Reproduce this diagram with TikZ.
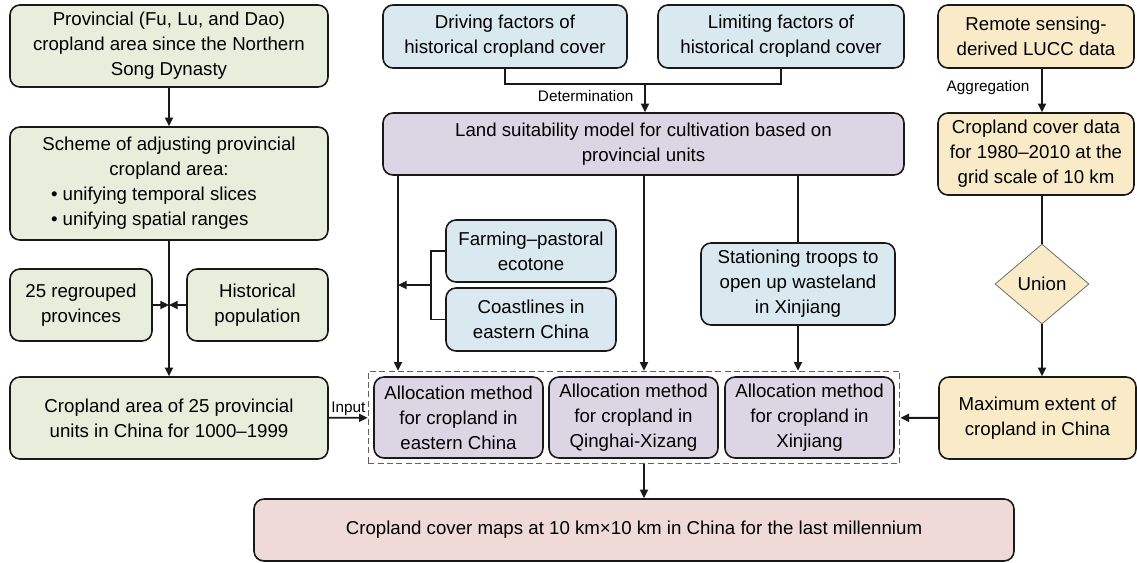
\documentclass[tikz,border=0pt]{standalone}
\usepackage{fontspec}
\setmainfont{Liberation Sans}
\usetikzlibrary{arrows.meta,shapes.geometric,fit}

\definecolor{boxline}{RGB}{25,25,25}
\definecolor{boxgreen}{RGB}{233,237,220}
\definecolor{boxblue}{RGB}{218,232,239}
\definecolor{boxpurple}{RGB}{220,214,228}
\definecolor{boxyellow}{RGB}{249,235,200}
\definecolor{boxpink}{RGB}{240,218,216}

\begin{document}
\begin{tikzpicture}[x=0.75pt,y=0.75pt,yscale=-1,xscale=1,
    every node/.style={font=\fontsize{14}{18.75}\selectfont},
    base/.style={draw=boxline, line width=1.2pt, rounded corners=7.5pt, align=center, inner sep=0pt},
    greenbox/.style={base, fill=boxgreen},
    bluebox/.style={base, fill=boxblue},
    purplebox/.style={base, fill=boxpurple},
    yellowbox/.style={base, fill=boxyellow},
    pinkbox/.style={base, fill=boxpink},
    dashbox/.style={draw=gray!75!black, line width=0.8pt, dash pattern=on 4.5pt off 2.5pt, inner sep=3.75pt},
    lbl/.style={font=\fontsize{11.5}{13}\selectfont, inner sep=1pt},
    arr/.style={-{Triangle[length=6.5pt,width=6pt]}, line width=1.35pt, draw=boxline},
    link/.style={line width=1.35pt, draw=boxline}
]
    \useasboundingbox (0,0) rectangle (1137,562);

    %Left column [provincial cropland area]
    \node[greenbox, minimum width=238.5pt, minimum height=61.5pt] (prov) at (169,46) {Provincial (Fu, Lu, and Dao)\\cropland area since the Northern\\Song Dynasty};
    \node[greenbox, minimum width=238.5pt, minimum height=84.75pt] (scheme) at (169,183.5) {Scheme of adjusting provincial\\cropland area:\\\makebox[177pt][l]{\textbullet\ unifying temporal slices}\\\makebox[177pt][l]{\textbullet\ unifying spatial ranges}};
    \node[greenbox, minimum width=106.5pt, minimum height=54pt] (regr) at (81,305) {25 regrouped\\provinces};
    \node[greenbox, minimum width=105.75pt, minimum height=54pt] (pop) at (257.5,305) {Historical\\population};
    \node[greenbox, minimum width=238.5pt, minimum height=61.5pt] (area) at (169,418) {Cropland area of 25 provincial\\units in China for 1000--1999};

    %Middle column [factors and suitability model]
    \node[bluebox, minimum width=183pt, minimum height=47.25pt] (drive) at (505,36.5) {Driving factors of\\historical cropland cover};
    \node[bluebox, minimum width=184.5pt, minimum height=47.25pt] (limit) at (781,36.5) {Limiting factors of\\historical cropland cover};
    \node[purplebox, minimum width=390.75pt, minimum height=46.5pt] (suit) at (643.5,144) {Land suitability model for cultivation based on\\provincial units};
    \node[bluebox, minimum width=127.5pt, minimum height=46.5pt] (farm) at (531,251) {Farming--pastoral\\ecotone};
    \node[bluebox, minimum width=127.5pt, minimum height=47.25pt] (coast) at (531,319.5) {Coastlines in\\eastern China};
    \node[bluebox, minimum width=145.5pt, minimum height=61.5pt] (troops) at (798,284) {Stationing troops to\\open up wasteland\\in Xinjiang};

    %Allocation methods
    \node[purplebox, minimum width=126.75pt, minimum height=60.75pt] (east) at (458.5,417.5) {Allocation method\\for cropland in\\eastern China};
    \node[purplebox, minimum width=126.75pt, minimum height=60.75pt] (qxz) at (633.5,417.5) {Allocation method\\for cropland in\\Qinghai-Xizang};
    \node[purplebox, minimum width=126.75pt, minimum height=60.75pt] (xj) at (809.5,417.5) {Allocation method\\for cropland in\\Xinjiang};
    \node[dashbox, fit=(east)(xj)] (alloc) {};

    %Right column [remote sensing data]
    \node[yellowbox, minimum width=147pt, minimum height=47.25pt] (lucc) at (1036,36.5) {Remote sensing-\\derived LUCC data};
    \node[yellowbox, minimum width=147pt, minimum height=61.5pt] (grid) at (1036,154) {Cropland cover data\\for 1980--2010 at the\\grid scale of 10 km};
    \node[diamond, draw=gray!85!black, line width=0.6pt, fill=boxyellow, inner sep=0pt, minimum width=70.5pt, minimum height=60pt] (union) at (1042,284) {Union};
    \node[yellowbox, minimum width=147.75pt, minimum height=61.5pt] (maxext) at (1037.5,418) {Maximum extent of\\cropland in China};

    %Result
    \node[pinkbox, minimum width=570pt, minimum height=46.5pt] (maps) at (634,530) {Cropland cover maps at 10 km×10 km in China for the last millennium};

    %helper coordinates
    \coordinate (c1) at (398,0);
    \coordinate (c2) at (644,0);
    \coordinate (rc) at (1042,0);
    \coordinate (det) at (645,83);
    \coordinate (brk) at (431,285);

    %Connectors, left
    \draw[arr] (prov) -- (scheme);
    \draw[arr] (scheme) -- (area);
    \draw[arr] (regr) -- (regr -| scheme);
    \draw[arr] (pop) -- (pop -| scheme);
    \draw[arr] (area) -- (alloc);
    \node[lbl, anchor=south east] (input) at (367,417) {Input};

    %Connectors, middle
    \draw[link] (drive.south) -- ++(0,15) -| (limit.south);
    \draw[arr] (det) -- (det |- suit.north);
    \node[lbl, anchor=east] (detlbl) at (635,96) {Determination};
    \draw[arr] (suit.south -| c1) -- (alloc.north -| c1);
    \draw[arr] (suit.south -| c2) -- (alloc.north -| c2);
    \draw[link] (suit.south -| troops) -- (troops);
    \draw[arr] (troops) -- (troops |- alloc.north);
    \draw[link] (farm.west) -- (farm.west -| brk) |- (coast.west);
    \draw[arr] (brk) -- (brk -| c1);
    \draw[arr] (alloc.south -| c2) -- (maps.north -| c2);

    %Connectors, right
    \draw[arr] (lucc.south -| rc) -- (grid.north -| rc);
    \node[lbl, anchor=east] (agglbl) at (1031,88) {Aggregation};
    \draw[link] (grid.south -| rc) -- (union);
    \draw[arr] (union) -- (maxext.north -| rc);
    \draw[arr] (maxext) -- (alloc);

\end{tikzpicture}
\end{document}
